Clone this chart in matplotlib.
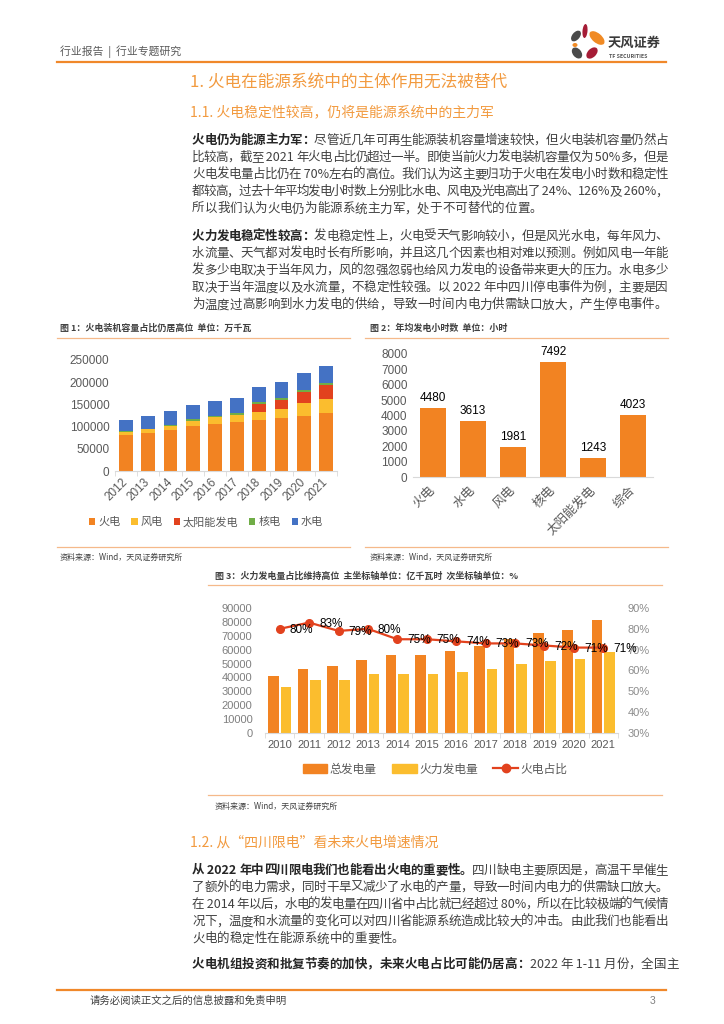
import numpy as np
import matplotlib
matplotlib.use('Agg')
import matplotlib.pyplot as plt
from matplotlib.patches import Ellipse, Patch
from matplotlib.lines import Line2D
from matplotlib.font_manager import FontProperties

plt.rcParams['font.family'] = ['Noto Sans CJK SC', 'DejaVu Sans']

W, H = 724, 1024
ORANGE = '#F28322'
YELLOW = '#FBBD2E'
RED = '#E2421E'
GREEN = '#70AD47'
BLUE = '#4472C4'
HEAD = '#F29A3F'
RULE = '#F5B98A'
NUM = ['Liberation Sans', 'Noto Sans CJK SC']

# ---- data ----
cap_years = ['2012', '2013', '2014', '2015', '2016', '2017', '2018', '2019', '2020', '2021']
cap_thermal = [81968, 86238, 92363, 100554, 106094, 110495, 114408, 118957, 124517, 129678]
cap_wind = [6142, 7652, 9657, 13075, 14747, 16400, 18427, 20915, 28153, 32848]
cap_solar = [0, 0, 0, 0, 0, 0, 17433, 20418, 25343, 30656]
cap_nuclear = [1257, 1466, 2008, 2717, 3364, 3582, 4466, 4874, 4989, 5326]
cap_hydro = [24947, 28044, 30486, 31954, 33207, 34411, 35259, 35804, 37016, 39094]
cap_names = ['火电', '风电', '太阳能发电', '核电', '水电']

hour_names = ['火电', '水电', '风电', '核电', '太阳能发电', '综合']
hour_values = [4480, 3613, 1981, 7492, 1243, 4023]

gen_years = ['2010', '2011', '2012', '2013', '2014', '2015', '2016', '2017', '2018', '2019', '2020', '2021']
gen_total = [41400, 45900, 48300, 52600, 56500, 56100, 59200, 62900, 67900, 71700, 74200, 81300]
gen_thermal = [33400, 38300, 38000, 42400, 42600, 42300, 44100, 46200, 49900, 52100, 53200, 58100]
gen_share = [80, 83, 79, 80, 75, 75, 74, 73, 73, 72, 71, 71]

para1 = [
    [('火电仍为能源主力军：', True), ('尽管近几年可再生能源装机容量增速较快，但火电装机容量仍然占', False)],
    [('比较高，截至 2021 年火电占比仍超过一半。即使当前火力发电装机容量仅为 50%多，但是', False)],
    [('火电发电量占比仍在 70%左右的高位。我们认为这主要归功于火电在发电小时数和稳定性', False)],
    [('都较高，过去十年平均发电小时数上分别比水电、风电及光电高出了 24%、126%及 260%，', False)],
    [('所以我们认为火电仍为能源系统主力军，处于不可替代的位置。', False)],
]
para2 = [
    [('火力发电稳定性较高：', True), ('发电稳定性上，火电受天气影响较小，但是风光水电，每年风力、', False)],
    [('水流量、天气都对发电时长有所影响，并且这几个因素也相对难以预测。例如风电一年能', False)],
    [('发多少电取决于当年风力，风的忽强忽弱也给风力发电的设备带来更大的压力。水电多少', False)],
    [('取决于当年温度以及水流量，不稳定性较强。以 2022 年中四川停电事件为例，主要是因', False)],
    [('为温度过高影响到水力发电的供给，导致一时间内电力供需缺口放大，产生停电事件。', False)],
]
para3 = [
    [('从 2022 年中四川限电我们也能看出火电的重要性。', True), ('四川缺电主要原因是，高温干旱催生', False)],
    [('了额外的电力需求，同时干旱又减少了水电的产量，导致一时间内电力的供需缺口放大。', False)],
    [('在 2014 年以后，水电的发电量在四川省中占比就已经超过 80%，所以在比较极端的气候情', False)],
    [('况下，温度和水流量的变化可以对四川省能源系统造成比较大的冲击。由此我们也能看出', False)],
    [('火电的稳定性在能源系统中的重要性。', False)],
]
para4 = [
    [('火电机组投资和批复节奏的加快，未来火电占比可能仍居高：', True), ('2022 年 1-11 月份，全国主', False)],
]

fig = plt.figure(figsize=(W / 100, H / 100), dpi=100)
bg = fig.add_axes([0, 0, 1, 1])
bg.set_xlim(0, W)
bg.set_ylim(H, 0)
bg.axis('off')
renderer = fig.canvas.get_renderer()


def rect(l, t, r, b):
    return [l / W, 1 - b / H, (r - l) / W, (b - t) / H]


def text_width(s, fp):
    w1 = renderer.get_text_width_height_descent('|' + s + '|', fp, ismath=False)[0]
    w0 = renderer.get_text_width_height_descent('||', fp, ismath=False)[0]
    return w1 - w0


def draw_line(segs, x0, y, x1=None, size=9):
    toks = []
    for s, bold in segs:
        fp = FontProperties(family=['Noto Sans CJK SC', 'DejaVu Sans'], size=size,
                            weight='bold' if bold else 'normal')
        col = '#262626' if bold else '#404040'
        i = 0
        while i < len(s):
            if s[i].isascii():
                j = i
                while j < len(s) and s[j].isascii():
                    j += 1
                toks.append((s[i:j], fp, col))
                i = j
            else:
                toks.append((s[i], fp, col))
                i += 1
    ws = [text_width(t, fp) for t, fp, c in toks]
    extra = 0
    if x1 is not None and len(toks) > 1:
        extra = (x1 - x0 - sum(ws)) / (len(toks) - 1)
    x = x0
    for (t, fp, c), w in zip(toks, ws):
        bg.text(x, y + 4.6, t, fontproperties=fp, color=c, ha='left', va='baseline')
        x += w + extra


def draw_para(lines, y0, step=17.2):
    for k, segs in enumerate(lines):
        last = k == len(lines) - 1
        draw_line(segs, 192, y0 + k * step, None if last else 668)


# ---- header ----
bg.text(60, 52, '行业报告  |  行业专题研究', fontsize=7.8, color='#595959', va='center')
bg.plot([57, 666], [61.5, 61.5], color='#F0882A', lw=1.6)
for (cx, cy, w, h, a, c) in [(576, 36, 7.5, 12.5, 40, '#4A4A4A'), (585, 31, 5, 14, 5, '#A51C36'),
                             (597, 38, 9.5, 18, -50, '#F08A24'), (575, 45, 5, 4, 0, '#F08A24'),
                             (577, 53, 8.5, 12.5, -40, '#4A4A4A'), (592, 53, 8.5, 13.5, 45, '#A51C36')]:
    bg.add_patch(Ellipse((cx, cy), w, h, angle=a, color=c, lw=0))
bg.text(608, 43, '天风证券', fontsize=9.5, weight='bold', color='#3A3A3A', va='center')
bg.text(609, 56, 'TF SECURITIES', fontsize=3.8, weight='bold', color='#555555', va='center')

bg.text(190, 82, '1. 火电在能源系统中的主体作用无法被替代', fontsize=12, color=HEAD, va='center')
bg.text(190, 112, '1.1. 火电稳定性较高，仍将是能源系统中的主力军', fontsize=10, color=HEAD, va='center')

draw_para(para1, 139)
draw_para(para2, 235)

# ---- captions / sources ----
cap_kw = dict(fontsize=6.5, weight='bold', color='#404040', va='center')
bg.text(60, 328, '图 1：火电装机容量占比仍居高位  单位：万千瓦', **cap_kw)
bg.text(370, 328, '图 2：年均发电小时数  单位：小时', **cap_kw)
bg.text(215, 576, '图 3：火力发电量占比维持高位  主坐标轴单位：亿千瓦时  次坐标轴单位：%', **cap_kw)
for (xa, xb, yy) in [(57, 350, 338), (365, 668, 338), (57, 350, 547), (365, 668, 547),
                     (208, 662, 585), (208, 662, 795)]:
    bg.plot([xa, xb], [yy, yy], color=RULE, lw=0.9)
src_kw = dict(fontsize=5.8, color='#404040', va='center')
bg.text(60, 557, '资料来源：Wind，天风证券研究所', **src_kw)
bg.text(370, 557, '资料来源：Wind，天风证券研究所', **src_kw)
bg.text(215, 806, '资料来源：Wind，天风证券研究所', **src_kw)


def style_axes(ax):
    for s in ['top', 'left', 'right']:
        ax.spines[s].set_visible(False)
    ax.spines['bottom'].set_color('#D9D9D9')
    ax.tick_params(axis='y', length=0, pad=4, labelsize=8, labelcolor='#595959')
    ax.tick_params(axis='x', which='major', length=0, labelcolor='#595959')
    ax.tick_params(axis='x', which='minor', length=3.5, color='#D9D9D9')
    for lab in ax.get_yticklabels():
        lab.set_family(NUM)


# ---- chart 1 ----
ax1 = fig.add_axes(rect(115, 360, 337, 471))
x1 = np.arange(len(cap_years))
bottom = np.zeros(len(cap_years))
for vals, col, name in zip([cap_thermal, cap_wind, cap_solar, cap_nuclear, cap_hydro],
                           [ORANGE, YELLOW, RED, GREEN, BLUE], cap_names):
    ax1.bar(x1, vals, 0.63, bottom=bottom, color=col, label=name)
    bottom += np.array(vals)
ax1.set_xlim(-0.5, len(cap_years) - 0.5)
ax1.set_ylim(0, 250000)
ax1.set_yticks(np.arange(0, 250001, 50000))
ax1.set_xticks(x1)
ax1.set_xticks(np.arange(-0.5, len(cap_years), 1), minor=True)
ax1.set_xticklabels(cap_years, rotation=45, ha='right', va='center', rotation_mode='anchor',
                    fontsize=8.5, family=NUM)
style_axes(ax1)
ax1.tick_params(axis='x', which='major', pad=7)
ax1.tick_params(axis='y', labelsize=8.5)
ax1.legend(loc='center', bbox_to_anchor=(206 / W, 1 - 522 / H), bbox_transform=fig.transFigure,
           ncol=5, frameon=False, fontsize=8, labelcolor='#595959', handlelength=0.55,
           handleheight=0.55, handletextpad=0.25, columnspacing=1.0)

# ---- chart 2 ----
ax2 = fig.add_axes(rect(413, 354, 653, 477))
x2 = np.arange(len(hour_names))
ax2.bar(x2, hour_values, 0.63, color=ORANGE)
for i, v in enumerate(hour_values):
    ax2.annotate(str(v), (i, v), xytext=(0, 4), textcoords='offset pixels', ha='center',
                 va='bottom', fontsize=8.5, color='#000000', family=NUM)
ax2.set_xlim(-0.5, len(hour_names) - 0.5)
ax2.set_ylim(0, 8000)
ax2.set_yticks(np.arange(0, 8001, 1000))
ax2.set_xticks(x2)
ax2.set_xticklabels(hour_names, rotation=45, ha='right', va='center', rotation_mode='anchor',
                    fontsize=9)
style_axes(ax2)
ax2.tick_params(axis='x', which='major', pad=8)
ax2.tick_params(axis='y', labelsize=8.5)

# ---- chart 3 ----
ax3 = fig.add_axes(rect(265, 608, 618, 733))
x3 = np.arange(len(gen_years))
ax3.bar(x3 - 0.21, gen_total, 0.36, color=ORANGE)
ax3.bar(x3 + 0.21, gen_thermal, 0.36, color=YELLOW)
ax3.set_xlim(-0.5, len(gen_years) - 0.5)
ax3.set_ylim(0, 90000)
ax3.set_yticks(np.arange(0, 90001, 10000))
ax3.set_xticks(x3)
ax3.set_xticks(np.arange(-0.5, len(gen_years), 1), minor=True)
ax3.set_xticklabels(gen_years, fontsize=8, family=NUM)
style_axes(ax3)
ax3.tick_params(axis='x', which='major', pad=5)
ax3.tick_params(axis='y', pad=9, labelcolor='#7F7F7F')
ax3r = ax3.twinx()
ax3r.plot(x3, gen_share, color=RED, marker='o', ms=5.5, lw=1.6)
for i, v in enumerate(gen_share):
    ax3r.annotate('%d%%' % v, (i, v), xytext=(10, -1), textcoords='offset pixels', ha='left',
                  va='center', fontsize=8.5, color='#000000', family=NUM)
ax3r.set_ylim(30, 90)
ax3r.set_yticks(np.arange(30, 91, 10))
ax3r.set_yticklabels(['%d%%' % t for t in range(30, 91, 10)], family=NUM)
for s in ['top', 'left', 'right', 'bottom']:
    ax3r.spines[s].set_visible(False)
ax3r.tick_params(axis='y', length=0, pad=7, labelsize=8, labelcolor='#8C8C8C')
handles = [Patch(color=ORANGE), Patch(color=YELLOW),
           Line2D([], [], color=RED, marker='o', ms=6, lw=1.6)]
fig.legend(handles, ['总发电量', '火力发电量', '火电占比'], loc='center',
           bbox_to_anchor=(435 / W, 1 - 769 / H), ncol=3, frameon=False, fontsize=8.5,
           labelcolor='#595959', handlelength=2.1, handleheight=0.7, handletextpad=0.2,
           columnspacing=1.3)

# ---- section 1.2 ----
bg.text(190, 843, '1.2. 从“四川限电”看未来火电增速情况', fontsize=10, color=HEAD, va='center')
draw_para(para3, 869)
draw_para(para4, 963)

# ---- footer ----
bg.plot([57, 666], [990, 990], color='#F0882A', lw=1.6)
bg.text(90, 1001, '请务必阅读正文之后的信息披露和免责申明', fontsize=7.5, color='#404040', va='center')
bg.text(655, 1001, '3', fontsize=7.5, color='#7F7F7F', va='center', ha='right', family=NUM)

fig.savefig('out.png', dpi=100)
